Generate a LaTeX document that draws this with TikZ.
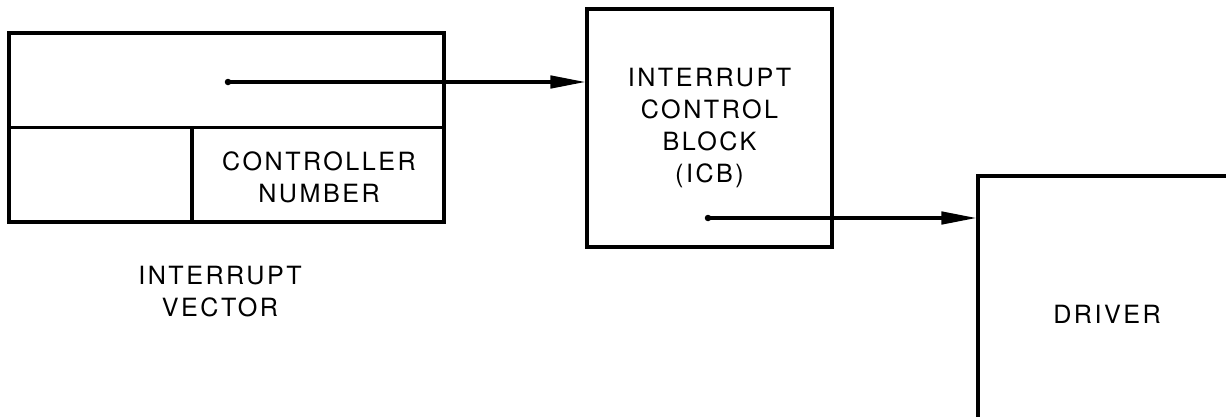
\documentclass[tikz,border=0pt]{standalone}
\usepackage{fontspec}
\setmainfont{TeX Gyre Heros}[LetterSpace=10]
\usetikzlibrary{arrows.meta}

\tikzset{
  box/.style={draw, line width=1.8pt, rectangle, inner sep=0pt},
  lbl/.style={align=center, font=\fontsize{14.3}{18.2}\selectfont},
  link/.style={line width=1.8pt, -{Triangle[length=0.7cm,width=0.25cm]}},
  pin/.style={circle, fill, inner sep=0pt, minimum size=0.13cm}
}

\begin{document}
\begin{tikzpicture}[x=0.02cm,y=-0.02cm]
  \useasboundingbox (0,0) rectangle (1226,416);
  \clip (0,0) rectangle (1226,416);
  % interrupt vector
  \node[box, minimum width=8.7cm, minimum height=3.78cm] (vec) at (226.5,127.5) {};
  \draw[line width=1.8pt] (vec.west) -- (vec.east);
  \coordinate (split) at (192,0);
  \draw[line width=1.8pt] (split |- vec.center) -- (split |- vec.south);
  \node[lbl] (ctlnum) at (319,177) {CONTROLLER\\NUMBER};
  \node[lbl] (veclabel) at (220,292) {INTERRUPT\\VECTOR};
  % control block
  \node[box, lbl, minimum width=4.9cm, minimum height=4.76cm] (icb) at (709.5,128)
    {INTERRUPT\\CONTROL\\BLOCK\\(ICB)};
  % driver
  \node[box, minimum width=6.44cm, minimum height=6.48cm] (drv) at (1139,338) {};
  \node[lbl] (drvlabel) at (1107,314) {DRIVER};
  % pointers
  \node[pin] (vecptr) at (228,82) {};
  \node[pin] (icbptr) at (708,218) {};
  \draw[link] (vecptr.center) -- (vecptr -| icb.west);
  \draw[link] (icbptr.center) -- (icbptr -| drv.west);
\end{tikzpicture}
\end{document}
